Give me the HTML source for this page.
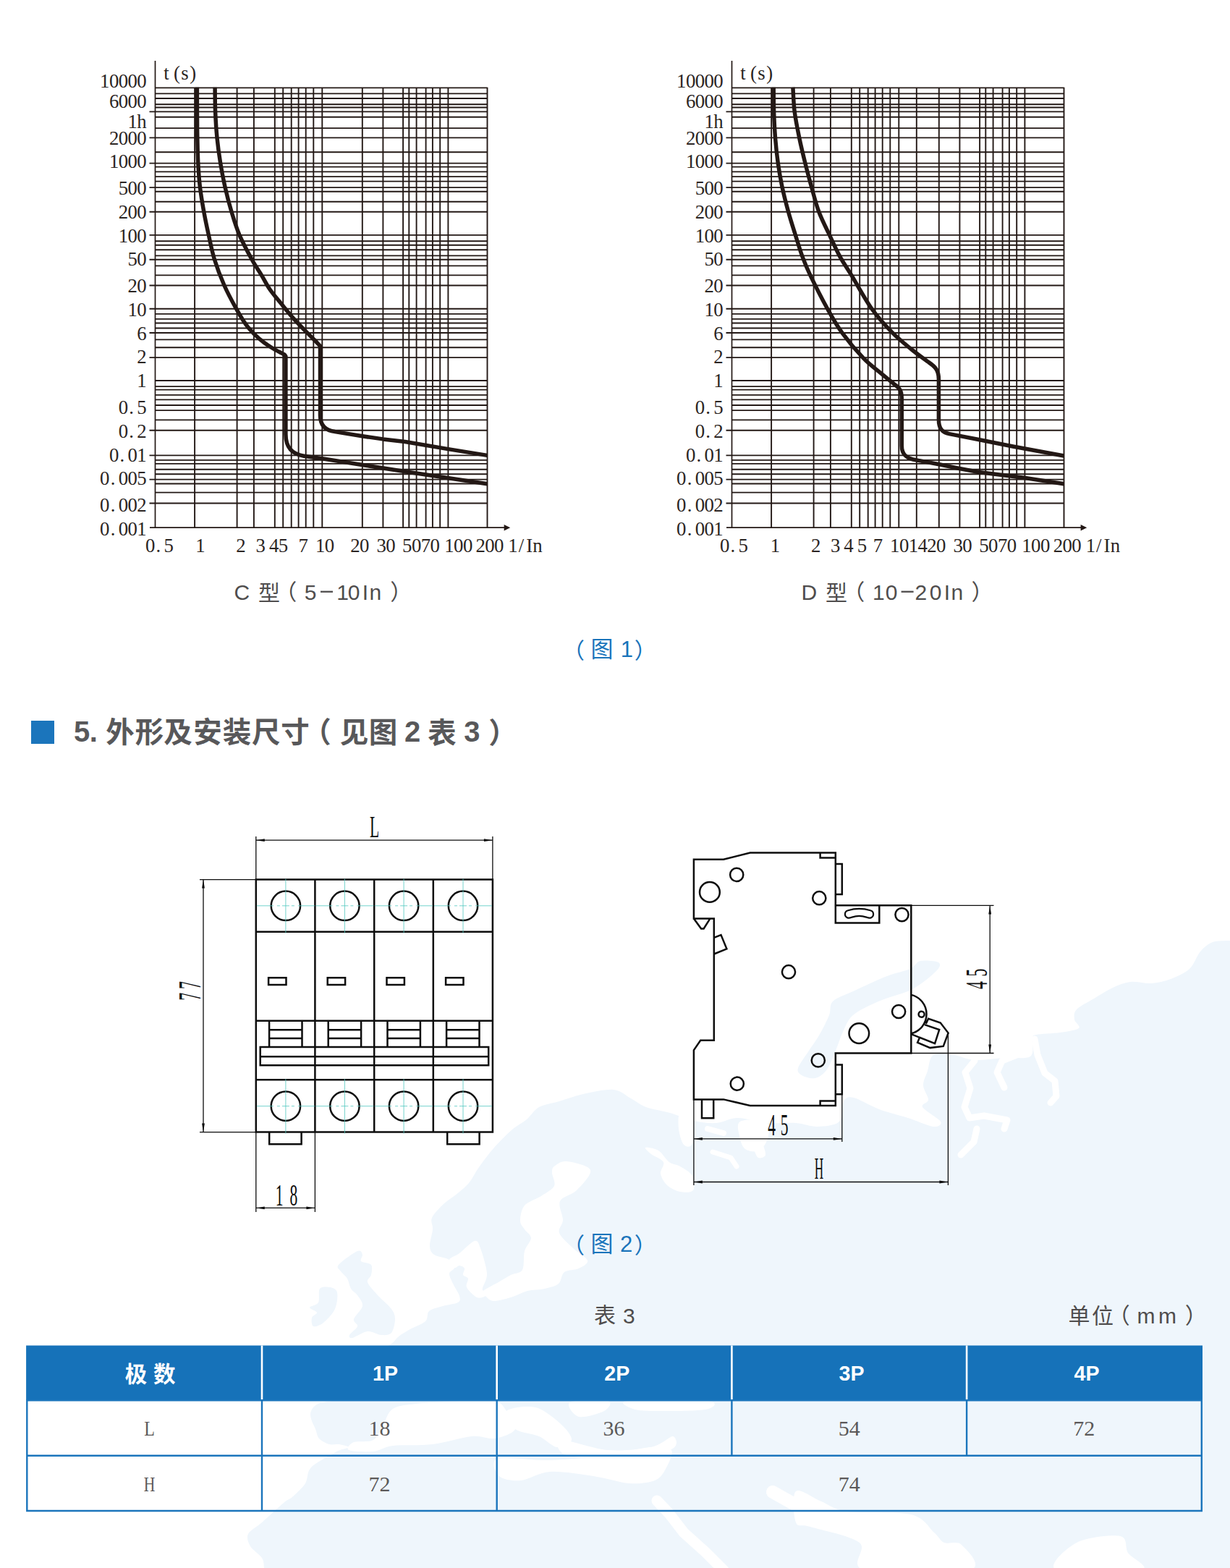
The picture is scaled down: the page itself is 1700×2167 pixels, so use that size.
<!DOCTYPE html>
<html lang="zh"><head><meta charset="utf-8"><title>p</title>
<style>html,body{margin:0;padding:0;background:#fff}svg{display:block}text{white-space:pre}</style></head>
<body><svg width="1700" height="2167" viewBox="0 0 1700 2167">
<rect width="1700" height="2167" fill="#fff"/>
<path d="M1700 1300C1693 1300.3 1682.6 1299.6 1676 1302C1669.4 1304.4 1664.1 1309.1 1659 1315C1653.9 1320.9 1650.6 1332.9 1644 1339C1637.4 1345.1 1626.5 1349.8 1618 1353C1609.5 1356.2 1600 1358.4 1591 1359C1582 1359.6 1570.5 1356 1562 1357C1553.5 1358 1546 1361.3 1538 1365C1530 1368.7 1520 1375.2 1512 1380C1504 1384.8 1492.3 1390.4 1488 1395C1483.7 1399.6 1484.5 1404.8 1485 1409C1485.5 1413.2 1494.2 1418.1 1491 1421C1487.8 1423.9 1474.4 1425.6 1465 1427C1455.6 1428.4 1438.1 1428.6 1432 1430C1425.9 1431.4 1428.3 1431.2 1427 1436C1425.7 1440.8 1430.2 1455.8 1424 1460C1417.8 1464.2 1400.3 1461.2 1388 1462C1375.7 1462.8 1358.2 1465.6 1347 1465C1335.8 1464.4 1327.1 1459.1 1318 1458C1308.9 1456.9 1295.8 1454.5 1290 1458C1284.2 1461.5 1284.2 1473.3 1282 1480C1279.8 1486.7 1275.8 1493.6 1276 1500C1276.2 1506.4 1283.2 1515.2 1283 1520C1282.8 1524.8 1272.3 1525.2 1275 1530C1277.7 1534.8 1297.6 1545.7 1300 1550C1302.4 1554.3 1297.2 1557.8 1290 1557C1282.8 1556.2 1267 1548.8 1255 1545C1243 1541.2 1227 1537.5 1215 1533C1203 1528.5 1187.8 1518.8 1180 1517C1172.2 1515.2 1169.2 1516.7 1166 1522C1162.8 1527.3 1165.8 1544.4 1160 1550C1154.2 1555.6 1139.6 1556.7 1130 1557C1120.4 1557.3 1111.2 1552.8 1100 1552C1088.8 1551.2 1072.8 1553.1 1060 1552C1047.2 1550.9 1031.2 1545 1020 1545C1008.8 1545 999.8 1551.4 990 1552C980.2 1552.6 969.2 1551.2 959 1549C948.8 1546.8 936.6 1541 926 1538C915.4 1535 901.6 1533.2 893 1530C884.4 1526.8 879.2 1521.8 872 1518C864.8 1514.2 858.6 1507 848 1506C837.4 1505 818 1509.4 806 1512C794 1514.6 782.8 1519.1 773 1522C763.2 1524.9 752.2 1526 745 1530C737.8 1534 733.9 1542 728 1547C722.1 1552 715.2 1554.8 708 1561C700.8 1567.2 690.4 1577.7 683 1586C675.6 1594.3 667.6 1605.2 662 1613C656.4 1620.8 653.3 1628.8 648 1635C642.7 1641.2 634.6 1647.4 629 1652C623.4 1656.6 618.1 1659 613 1664C607.9 1669 599.4 1677.4 597 1683C594.6 1688.6 598.5 1692.8 598 1699C597.5 1705.2 593.7 1716.4 594 1722C594.3 1727.6 595.7 1731 600 1734C604.3 1737 616.5 1738.1 621 1741C625.5 1743.9 628 1749 628 1752C628 1755 621.3 1756.5 621 1760C620.7 1763.5 623.8 1769 626 1774C628.2 1779 633.9 1786.8 635 1791C636.1 1795.2 636.7 1797.8 633 1800C629.3 1802.2 618.4 1803.1 612 1805C605.6 1806.9 596.8 1808.6 593 1812C589.2 1815.4 592.5 1821.8 588 1826C583.5 1830.2 570.9 1834.6 565 1838C559.1 1841.4 554.8 1844 551 1847C547.2 1850 546 1853.6 541 1857C536 1860.4 526.9 1865.6 520 1868C513.1 1870.4 504.7 1869.8 498 1872C491.3 1874.2 479 1878.3 478 1882C477 1885.7 487.7 1890.8 492 1895C496.3 1899.2 503.7 1903 505 1908C506.3 1913 505.6 1921.8 500 1926C494.4 1930.2 479.6 1931.8 470 1934C460.4 1936.2 446.4 1937.4 440 1940C433.6 1942.6 431.6 1946.6 430 1950C428.4 1953.4 429 1957 430 1961C431 1965 434.2 1970.7 436 1975C437.8 1979.3 438 1984.6 441 1988C444 1991.4 450.7 1994.7 455 1996C459.3 1997.3 463.7 1995.4 468 1996C472.3 1996.6 481.7 1998.7 482 2000C482.3 2001.3 473.2 2002.7 470 2004C466.8 2005.3 468.4 2004.2 462 2008C455.6 2011.8 436.4 2021.3 430 2028C423.6 2034.7 426 2043.6 422 2050C418 2056.4 409.8 2063.7 405 2068C400.2 2072.3 398.9 2071.2 392 2077C385.1 2082.8 369.8 2097.1 362 2104C354.2 2110.9 345.6 2114.7 343 2120C340.4 2125.3 343 2131.7 346 2137C349 2142.3 359 2148.2 362 2153C365 2157.8 364.5 2162.7 365 2167C365.5 2171.3 148.2 2177.9 365 2180C581.8 2182.1 1503.2 2320.8 1720 2180C1936.8 2039.2 1723.2 1440.8 1720 1300C1716.8 1159.2 1707 1299.7 1700 1300Z" fill="#eff6fc"/>
<path d="M468 1748C471.7 1743.5 488.7 1731.2 494 1729C499.3 1726.8 500.2 1731.8 501 1734C501.8 1736.2 497.1 1740.8 499 1743C500.9 1745.2 510.8 1745 513 1748C515.2 1751 513.8 1758.2 513 1762C512.2 1765.8 506.6 1767.5 508 1772C509.4 1776.5 516.7 1784.1 522 1790C527.3 1795.9 537.2 1803.7 541 1809C544.8 1814.3 546 1817.7 546 1823C546 1828.3 544 1838.5 541 1842C538 1845.5 532.3 1845.3 527 1845C521.7 1844.7 514.4 1839.4 508 1840C501.6 1840.6 491 1848.2 487 1849C483 1849.8 481.9 1847.6 483 1845C484.1 1842.4 493 1836.5 494 1833C495 1829.5 487.9 1827.5 489 1823C490.1 1818.5 500.2 1810.3 501 1805C501.8 1799.7 496.6 1793.8 494 1790C491.4 1786.2 487.2 1784.7 485 1781C482.8 1777.3 482.2 1770.8 480 1767C477.8 1763.2 472.9 1760 471 1757C469.1 1754 464.3 1752.5 468 1748Z" fill="#eff6fc"/>
<path d="M442 1781C444.6 1777.6 452.2 1778.2 456 1779C459.8 1779.8 464.9 1781.2 466 1786C467.1 1790.8 466 1802.3 463 1809C460 1815.7 451.8 1824.2 447 1828C442.2 1831.8 435.6 1834.1 433 1833C430.4 1831.9 430.2 1824 431 1821C431.8 1818 438.5 1816.2 438 1814C437.5 1811.8 427.7 1809.2 428 1807C428.3 1804.8 437.8 1804.2 440 1800C442.2 1795.8 439.4 1784.4 442 1781Z" fill="#eff6fc"/>
<path d="M1297 1330C1293.5 1327.8 1278.2 1326.6 1272 1328C1265.8 1329.4 1265.4 1335.6 1258 1339C1250.6 1342.4 1238.6 1344 1226 1349C1213.4 1354 1191 1364.4 1179 1370C1167 1375.6 1156.3 1378.7 1151 1384C1145.7 1389.3 1149 1395.5 1146 1403C1143 1410.5 1136.5 1423.2 1132 1431C1127.5 1438.8 1122.6 1444.8 1118 1452C1113.4 1459.2 1104.6 1470.6 1103 1476C1101.4 1481.4 1104.2 1483.8 1108 1486C1111.8 1488.2 1121.4 1491.3 1127 1490C1132.6 1488.7 1138.5 1484.1 1143 1478C1147.5 1471.9 1151.5 1460.3 1155 1452C1158.5 1443.7 1161.2 1433.8 1165 1426C1168.8 1418.2 1171.2 1409.7 1179 1403C1186.8 1396.3 1200.9 1389.8 1214 1384C1227.1 1378.2 1248.2 1373.7 1261 1367C1273.8 1360.3 1288.2 1347.9 1294 1342C1299.8 1336.1 1300.5 1332.2 1297 1330Z" fill="#eff6fc"/>
<path d="M621 1741C622.1 1737.8 629.4 1736.2 635 1732C640.6 1727.8 651.4 1716.1 656 1715C660.6 1713.9 661.3 1717.8 664 1725C666.7 1732.2 672.5 1751.2 673 1760C673.5 1768.8 667.8 1776.2 667 1780C666.2 1783.8 667.4 1782.2 668 1784C668.6 1785.8 672.4 1789.6 671 1791C669.6 1792.4 663.2 1794.9 659 1793C654.8 1791.1 646.9 1783.2 645 1779C643.1 1774.8 647.8 1769.7 647 1767C646.2 1764.3 640.8 1764.2 640 1762C639.2 1759.8 642.8 1755.1 642 1753C641.2 1750.9 637.2 1749.2 635 1749C632.8 1748.8 630.2 1753.3 628 1752C625.8 1750.7 619.9 1744.2 621 1741Z" fill="#ffffff"/>
<path d="M668 1784C670.9 1781 682.9 1775.5 689 1772C695.1 1768.5 700.7 1764.7 706 1762C711.3 1759.3 719 1760.3 722 1755C725 1749.7 723.1 1736 725 1729C726.9 1722 734 1715.8 734 1711C734 1706.2 727.4 1702.8 725 1699C722.6 1695.2 719 1692.3 719 1687C719 1681.7 720.4 1671.4 725 1666C729.6 1660.6 741.4 1657.3 748 1653C754.6 1648.7 763.6 1644.1 766 1639C768.4 1633.9 763 1625.3 763 1621C763 1616.7 762.8 1614.6 766 1612C769.2 1609.4 775 1604.2 783 1605C791 1605.8 813.8 1610.6 816 1617C818.2 1623.4 803.7 1638.1 797 1645C790.3 1651.9 777 1653.4 774 1660C771 1666.6 778.2 1679 778 1686C777.8 1693 770.8 1697.8 773 1704C775.2 1710.2 785.8 1718.9 792 1725C798.2 1731.1 810.7 1737.5 812 1742C813.3 1746.5 805.1 1750.4 800 1753C794.9 1755.6 784.5 1754.6 780 1758C775.5 1761.4 776.3 1770.3 772 1774C767.7 1777.7 759.9 1779.4 753 1781C746.1 1782.6 736.5 1782.1 729 1784C721.5 1785.9 713.5 1790.8 706 1793C698.5 1795.2 687.6 1798.3 682 1798C676.4 1797.7 673.2 1793.2 671 1791C668.8 1788.8 665.1 1787 668 1784Z" fill="#ffffff"/>
<path d="M892 1586C893.6 1585.2 904.7 1586.8 910 1590C915.3 1593.2 920.2 1602.5 925 1606C929.8 1609.5 934.9 1609 940 1612C945.1 1615 954.1 1619.7 957 1625C959.9 1630.3 960.7 1641.5 958 1645C955.3 1648.5 945.8 1648.1 940 1647C934.2 1645.9 926.3 1642 922 1638C917.7 1634 913.8 1627.1 913 1622C912.2 1616.9 919.1 1610.3 917 1606C914.9 1601.7 904 1598.2 900 1595C896 1591.8 890.4 1586.8 892 1586Z" fill="#ffffff"/>
<path d="M1430 1436L1434 1458L1444 1483L1458 1494L1460 1515L1452 1524" stroke="#fff" stroke-width="9" fill="none" stroke-linecap="round" stroke-linejoin="round"/>
<path d="M1405 1458L1385 1466L1378 1482L1388 1503" stroke="#fff" stroke-width="9" fill="none" stroke-linecap="round" stroke-linejoin="round"/>
<path d="M1347 1466L1334 1482L1341 1504L1333 1530L1340 1545L1360 1542L1392 1548L1388 1560" stroke="#fff" stroke-width="9" fill="none" stroke-linecap="round" stroke-linejoin="round"/>
<path d="M1350 1560L1346 1578L1328 1596" stroke="#fff" stroke-width="9" fill="none" stroke-linecap="round" stroke-linejoin="round"/>
<path d="M1023 1550C1028.8 1546.6 1051.8 1545.8 1058 1549C1064.2 1552.2 1063.3 1563.4 1062 1570C1060.7 1576.6 1055.1 1587.1 1050 1590C1044.9 1592.9 1034.5 1591.2 1030 1588C1025.5 1584.8 1023.1 1576.1 1022 1570C1020.9 1563.9 1017.2 1553.4 1023 1550Z" fill="#ffffff"/>
<path d="M985 1592L1010 1600L1018 1612" stroke="#fff" stroke-width="7" fill="none" stroke-linecap="round" stroke-linejoin="round"/>
<path d="M978 1560L1000 1566" stroke="#fff" stroke-width="8" fill="none" stroke-linecap="round" stroke-linejoin="round"/>
<path d="M1040 1574C1041.6 1572.4 1049.1 1574.5 1052 1578C1054.9 1581.5 1058.6 1592.5 1058 1596C1057.4 1599.5 1050.6 1601.3 1048 1600C1045.4 1598.7 1043.3 1592.2 1042 1588C1040.7 1583.8 1038.4 1575.6 1040 1574Z" fill="#ffffff"/>
<path d="M940 1537C943.2 1533.8 955.3 1533.1 958 1540C960.7 1546.9 959.1 1573.3 957 1580C954.9 1586.7 948 1585.2 945 1582C942 1578.8 938.8 1567.2 938 1560C937.2 1552.8 936.8 1540.2 940 1537Z" fill="#ffffff"/>
<path d="M543 1947C550.2 1942.5 559.5 1941.8 575 1940C590.5 1938.2 622.6 1936.6 640 1936C657.4 1935.4 674.4 1933.8 684 1936C693.6 1938.2 695.5 1943.8 700 1950C704.5 1956.2 714.6 1968.9 712 1975C709.4 1981.1 693.6 1986.4 684 1988C674.4 1989.6 665.8 1983.7 652 1985C638.2 1986.3 615.4 1993.9 598 1996C580.6 1998.1 556.1 1996.4 543 1998C529.9 1999.6 525.8 2005 516 2006C506.2 2007 486.3 2006.1 482 2004C477.7 2001.9 483.6 1995.2 489 1993C494.4 1990.8 509.4 1994 516 1990C522.6 1986 525.7 1974.9 530 1968C534.3 1961.1 535.8 1951.5 543 1947Z" fill="#ffffff"/>
<path d="M700 1950C704.5 1945.2 728 1942.1 740 1945C752 1947.9 767 1960.8 775 1968C783 1975.2 790.8 1984.9 790 1990C789.2 1995.1 777.2 2000.8 770 2000C762.8 1999.2 754.3 1989 745 1985C735.7 1981 719.2 1980.6 712 1975C704.8 1969.4 695.5 1954.8 700 1950Z" fill="#ffffff"/>
<path d="M788 1938C794.4 1934.5 832.5 1934.1 840 1936C847.5 1937.9 841.4 1946.5 835 1950C828.6 1953.5 807.5 1959.9 800 1958C792.5 1956.1 781.6 1941.5 788 1938Z" fill="#ffffff"/>
<path d="M869 1936C886 1934.4 961 1934.1 978 1936C995 1937.9 987.5 1945.8 975 1948C962.5 1950.2 916.5 1950.3 900 1950C883.5 1949.7 877 1948.2 872 1946C867 1943.8 852 1937.6 869 1936Z" fill="#ffffff"/>
<path d="M688 2016C699.2 2012.5 737.3 2018.6 760 2018C782.7 2017.4 807.6 2014.9 830 2012C852.4 2009.1 884.3 2001.3 900 2000C915.7 1998.7 924.8 1999.2 928 2004C931.2 2008.8 923.7 2023.3 920 2030C916.3 2036.7 913 2042.8 905 2046C897 2049.2 883.6 2051 870 2050C856.4 2049 837.6 2042.6 820 2040C802.4 2037.4 776 2033 760 2034C744 2035 731.2 2045 720 2046C708.8 2047 695.1 2044.8 690 2040C684.9 2035.2 676.8 2019.5 688 2016Z" fill="#ffffff"/>
<path d="M775 1990C784.6 1989 820 2002.4 840 2004C860 2005.6 885.6 2003 900 2000C914.4 1997 926 1984.4 930 1985C934 1985.6 941 1999.4 925 2004C909 2008.6 853.2 2013 830 2014C806.8 2015 788.8 2013.8 780 2010C771.2 2006.2 765.4 1991 775 1990Z" fill="#ffffff"/>
<path d="M908 2074L925 2092L945 2118L975 2145L1000 2170" stroke="#fff" stroke-width="15" fill="none" stroke-linecap="round" stroke-linejoin="round"/>
<path d="M1068 2062L1100 2080L1135 2104" stroke="#fff" stroke-width="18" fill="none" stroke-linecap="round" stroke-linejoin="round"/>
<path d="M1100 2061C1105.6 2056.4 1123.6 2070.5 1135 2075C1146.4 2079.5 1151.2 2086.1 1171 2089C1190.8 2091.9 1239.8 2088.4 1259 2093C1278.2 2097.6 1283.6 2111.8 1291 2118C1298.4 2124.2 1298.9 2129.3 1305 2132C1311.1 2134.7 1323.4 2128.9 1329 2135C1334.6 2141.1 1361.4 2164.4 1340 2170C1318.6 2175.6 1219.3 2176.1 1195 2170C1170.7 2163.9 1200 2141.6 1188 2132C1176 2122.4 1134.1 2114.5 1120 2110C1105.9 2105.5 1103.2 2111.8 1100 2104C1096.8 2096.2 1094.4 2065.6 1100 2061Z" fill="#ffffff"/>
<path d="M1460 2170C1445.8 2163.9 1473.9 2139.5 1488 2132C1502.1 2124.5 1536.6 2120.8 1548 2123C1559.4 2125.2 1554.4 2138.5 1559 2146C1563.6 2153.5 1592.8 2166.2 1577 2170C1561.2 2173.8 1474.2 2176.1 1460 2170Z" fill="#ffffff"/>
<g transform="translate(0 0)">
<path d="M214.5 121.4H673.5M214.5 129.4H673.5M214.5 136H673.5M214.5 144.2H673.5M214.5 148.5H673.5M206.5 154.4H673.5M214.5 161.8H673.5M214.5 177.1H673.5M206.5 190.4H673.5M214.5 210.2H673.5M206.5 225.6H673.5M214.5 230.6H673.5M214.5 237.4H673.5M214.5 244.1H673.5M214.5 250.6H673.5M206.5 259.1H673.5M214.5 264.7H673.5M214.5 278.8H673.5M206.5 292.7H673.5M206.5 324.9H673.5M214.5 333.3H673.5M214.5 338.7H673.5M214.5 345.2H673.5M214.5 353.4H673.5M206.5 358.8H673.5M214.5 367.4H673.5M214.5 380.4H673.5M206.5 394.5H673.5M206.5 426.7H673.5M214.5 433.9H673.5M214.5 440.9H673.5M214.5 446.5H673.5M214.5 453.5H673.5M206.5 460H673.5M214.5 469.4H673.5M214.5 480.2H673.5M206.5 494.1H673.5M214.5 526H673.5M214.5 534.1H673.5M214.5 538.6H673.5M214.5 545.9H673.5M214.5 552.4H673.5M214.5 560H673.5M214.5 567.1H673.5M214.5 580.4H673.5M206.5 594.7H673.5M206.5 629.4H673.5M214.5 635.9H673.5M214.5 640.9H673.5M214.5 648.8H673.5M214.5 655.3H673.5M206.5 662.6H673.5M214.5 668.5H673.5M214.5 680.6H673.5M206.5 695.5H673.5M269.1 120.7V729.2M327.6 120.7V729.2M350.9 120.7V729.2M379.8 120.7V729.2M391.2 120.7V729.2M402.7 120.7V729.2M412.6 120.7V729.2M422.7 120.7V729.2M433.3 120.7V729.2M445.3 120.7V729.2M500.8 120.7V729.2M529.4 120.7V729.2M557.1 120.7V729.2M565.3 120.7V729.2M575.6 120.7V729.2M588.6 120.7V729.2M597.9 120.7V729.2M608.2 120.7V729.2M619.4 120.7V729.2M673.5 120.7V729.2" stroke="#231815" stroke-width="1.9" fill="none"/>
<path d="M214.5 84V730M207 729.2H698" stroke="#231815" stroke-width="1.7" fill="none"/>
<path d="M705.2 729.2L696.6 725L696.6 733.4Z" fill="#231815"/>
<path d="M272.4 120.7C272.42 127.25 272.43 148.38 272.5 160C272.57 171.62 272.58 179.47 272.8 190.4C273.02 201.33 273.18 214.15 273.8 225.6C274.42 237.05 275.17 247.92 276.5 259.1C277.83 270.28 279.82 281.73 281.8 292.7C283.78 303.67 285.95 313.88 288.4 324.9C290.85 335.92 292.9 347.2 296.5 358.8C300.1 370.4 305 383.18 310 394.5C315 405.82 321.5 417.68 326.5 426.7C331.5 435.72 335.68 442.62 340 448.6C344.32 454.58 348.28 458.48 352.4 462.6C356.52 466.72 360.58 470.15 364.7 473.3C368.82 476.45 372.98 479.03 377.1 481.5C381.22 483.97 386.65 486.62 389.4 488.1C392.15 489.58 392.9 490.02 393.6 490.4L394.9 492.5L394.9 600C394.9 618 403 627.5 420 630.2L445.3 633.8L500.8 642.5L565.3 652.5L673.5 668.8" stroke="#231815" stroke-width="5.5" fill="none" stroke-linejoin="round"/>
<path d="M297.1 120.7C297.18 126.32 297.12 142.78 297.6 154.4C298.08 166.02 298.82 178.53 300 190.4C301.18 202.27 302.83 214.15 304.7 225.6C306.57 237.05 308.65 247.92 311.2 259.1C313.75 270.28 316.7 281.73 320 292.7C323.3 303.67 326.3 313.88 331 324.9C335.7 335.92 343.12 349.55 348.2 358.8C353.28 368.05 357.37 373.53 361.5 380.4C365.63 387.27 368.35 393.3 373 400C377.65 406.7 383.92 413.87 389.4 420.6C394.88 427.33 400.4 434.22 405.9 440.4C411.4 446.58 417.6 452.77 422.4 457.7C427.2 462.63 431.53 466.78 434.7 470C437.87 473.22 440.28 475.83 441.4 477L442.5 478.5L442.5 574C442.5 588 450 595 463 596.6L500.8 602.8L529.4 606.9L560 610.5L619.4 620.6L673.5 629.4" stroke="#231815" stroke-width="5.5" fill="none" stroke-linejoin="round"/>
</g>
<g transform="translate(797 0)">
<path d="M214.5 121.4H673.5M214.5 129.4H673.5M214.5 136H673.5M214.5 144.2H673.5M214.5 148.5H673.5M206.5 154.4H673.5M214.5 161.8H673.5M214.5 177.1H673.5M206.5 190.4H673.5M214.5 210.2H673.5M206.5 225.6H673.5M214.5 230.6H673.5M214.5 237.4H673.5M214.5 244.1H673.5M214.5 250.6H673.5M206.5 259.1H673.5M214.5 264.7H673.5M214.5 278.8H673.5M206.5 292.7H673.5M206.5 324.9H673.5M214.5 333.3H673.5M214.5 338.7H673.5M214.5 345.2H673.5M214.5 353.4H673.5M206.5 358.8H673.5M214.5 367.4H673.5M214.5 380.4H673.5M206.5 394.5H673.5M206.5 426.7H673.5M214.5 433.9H673.5M214.5 440.9H673.5M214.5 446.5H673.5M214.5 453.5H673.5M206.5 460H673.5M214.5 469.4H673.5M214.5 480.2H673.5M206.5 494.1H673.5M214.5 526H673.5M214.5 534.1H673.5M214.5 538.6H673.5M214.5 545.9H673.5M214.5 552.4H673.5M214.5 560H673.5M214.5 567.1H673.5M214.5 580.4H673.5M206.5 594.7H673.5M206.5 629.4H673.5M214.5 635.9H673.5M214.5 640.9H673.5M214.5 648.8H673.5M214.5 655.3H673.5M206.5 662.6H673.5M214.5 668.5H673.5M214.5 680.6H673.5M206.5 695.5H673.5M269.1 120.7V729.2M327.6 120.7V729.2M350.9 120.7V729.2M379.8 120.7V729.2M391.2 120.7V729.2M402.7 120.7V729.2M412.6 120.7V729.2M422.7 120.7V729.2M433.3 120.7V729.2M445.3 120.7V729.2M500.8 120.7V729.2M529.4 120.7V729.2M557.1 120.7V729.2M565.3 120.7V729.2M575.6 120.7V729.2M588.6 120.7V729.2M597.9 120.7V729.2M608.2 120.7V729.2M619.4 120.7V729.2M673.5 120.7V729.2M469.8 120.7V729.2" stroke="#231815" stroke-width="1.9" fill="none"/>
<path d="M214.5 84V730M207 729.2H698" stroke="#231815" stroke-width="1.7" fill="none"/>
<path d="M705.2 729.2L696.6 725L696.6 733.4Z" fill="#231815"/>
<path d="M272.2 120.7C272.27 126.32 272.22 142.78 272.6 154.4C272.98 166.02 273.55 178.53 274.5 190.4C275.45 202.27 276.68 214.15 278.3 225.6C279.92 237.05 281.82 247.92 284.2 259.1C286.58 270.28 289.57 281.73 292.6 292.7C295.63 303.67 299.2 314.67 302.4 324.9C305.6 335.13 308.37 344.82 311.8 354.1C315.23 363.38 317.22 368.53 323 380.6C328.78 392.67 339.25 413.37 346.5 426.5C353.75 439.63 358.25 448.03 366.5 459.4C374.75 470.77 386.98 485.28 396 494.7C405.02 504.12 413.43 509.85 420.6 515.9C427.77 521.95 435.93 528.48 439 531C446 536 449.3 540 449.3 550L449.3 616C449.3 629 457 634 469 635.8L501 641.8L529 647.5L556 652.5L620 660.5L673.5 668.8" stroke="#231815" stroke-width="5.5" fill="none" stroke-linejoin="round"/>
<path d="M298.9 120.7C299.28 126.32 299.73 142.78 301.2 154.4C302.67 166.02 305.25 178.53 307.7 190.4C310.15 202.27 313.05 214.15 315.9 225.6C318.75 237.05 321.65 247.92 324.8 259.1C327.95 270.28 330.68 281.73 334.8 292.7C338.92 303.67 344.7 314.67 349.5 324.9C354.3 335.13 358.52 344.82 363.6 354.1C368.68 363.38 372.65 368.53 380 380.6C387.35 392.67 398.37 413.37 407.7 426.5C417.03 439.63 426.78 449.98 436 459.4C445.22 468.82 454.58 476.13 463 483C471.42 489.87 482.58 497.67 486.5 500.6C496 507 500.4 512 500.4 524L500.4 580C500.4 593 506 598 515 599.6L553 607L603 617L673.5 630" stroke="#231815" stroke-width="5.5" fill="none" stroke-linejoin="round"/>
</g>
<text x="138.1 150.9 163.7 176.5 189.3" y="120.6" font-family="Liberation Serif" font-size="26.8" fill="#2b2523">10000</text>
<text x="150.9 163.7 176.5 189.3" y="149" font-family="Liberation Serif" font-size="26.8" fill="#2b2523">6000</text>
<text x="176.5 189.3" y="176.6" font-family="Liberation Serif" font-size="26.8" fill="#2b2523">1h</text>
<text x="150.9 163.7 176.5 189.3" y="199.6" font-family="Liberation Serif" font-size="26.8" fill="#2b2523">2000</text>
<text x="150.9 163.7 176.5 189.3" y="232.4" font-family="Liberation Serif" font-size="26.8" fill="#2b2523">1000</text>
<text x="163.7 176.5 189.3" y="269" font-family="Liberation Serif" font-size="26.8" fill="#2b2523">500</text>
<text x="163.7 176.5 189.3" y="302" font-family="Liberation Serif" font-size="26.8" fill="#2b2523">200</text>
<text x="163.7 176.5 189.3" y="335" font-family="Liberation Serif" font-size="26.8" fill="#2b2523">100</text>
<text x="176.5 189.3" y="367" font-family="Liberation Serif" font-size="26.8" fill="#2b2523">50</text>
<text x="176.5 189.3" y="404" font-family="Liberation Serif" font-size="26.8" fill="#2b2523">20</text>
<text x="176.5 189.3" y="437" font-family="Liberation Serif" font-size="26.8" fill="#2b2523">10</text>
<text x="189.3" y="469.6" font-family="Liberation Serif" font-size="26.8" fill="#2b2523">6</text>
<text x="189.3" y="502.4" font-family="Liberation Serif" font-size="26.8" fill="#2b2523">2</text>
<text x="189.3" y="535" font-family="Liberation Serif" font-size="26.8" fill="#2b2523">1</text>
<text x="163.7 178.3 189.3" y="572" font-family="Liberation Serif" font-size="26.8" fill="#2b2523">0.5</text>
<text x="163.7 178.3 189.3" y="605" font-family="Liberation Serif" font-size="26.8" fill="#2b2523">0.2</text>
<text x="150.9 165.5 176.5 189.3" y="638" font-family="Liberation Serif" font-size="26.8" fill="#2b2523">0.01</text>
<text x="138.1 152.7 163.7 176.5 189.3" y="670" font-family="Liberation Serif" font-size="26.8" fill="#2b2523">0.005</text>
<text x="138.1 152.7 163.7 176.5 189.3" y="707" font-family="Liberation Serif" font-size="26.8" fill="#2b2523">0.002</text>
<text x="138.1 152.7 163.7 176.5 189.3" y="740" font-family="Liberation Serif" font-size="26.8" fill="#2b2523">0.001</text>
<text x="226.18 239.88 250.29 262.2" y="109.5" font-family="Liberation Serif" font-size="26.8" fill="#2b2523">t(s)</text>
<text x="935.1 947.9 960.7 973.5 986.3" y="120.6" font-family="Liberation Serif" font-size="26.8" fill="#2b2523">10000</text>
<text x="947.9 960.7 973.5 986.3" y="149" font-family="Liberation Serif" font-size="26.8" fill="#2b2523">6000</text>
<text x="973.5 986.3" y="176.6" font-family="Liberation Serif" font-size="26.8" fill="#2b2523">1h</text>
<text x="947.9 960.7 973.5 986.3" y="199.6" font-family="Liberation Serif" font-size="26.8" fill="#2b2523">2000</text>
<text x="947.9 960.7 973.5 986.3" y="232.4" font-family="Liberation Serif" font-size="26.8" fill="#2b2523">1000</text>
<text x="960.7 973.5 986.3" y="269" font-family="Liberation Serif" font-size="26.8" fill="#2b2523">500</text>
<text x="960.7 973.5 986.3" y="302" font-family="Liberation Serif" font-size="26.8" fill="#2b2523">200</text>
<text x="960.7 973.5 986.3" y="335" font-family="Liberation Serif" font-size="26.8" fill="#2b2523">100</text>
<text x="973.5 986.3" y="367" font-family="Liberation Serif" font-size="26.8" fill="#2b2523">50</text>
<text x="973.5 986.3" y="404" font-family="Liberation Serif" font-size="26.8" fill="#2b2523">20</text>
<text x="973.5 986.3" y="437" font-family="Liberation Serif" font-size="26.8" fill="#2b2523">10</text>
<text x="986.3" y="469.6" font-family="Liberation Serif" font-size="26.8" fill="#2b2523">6</text>
<text x="986.3" y="502.4" font-family="Liberation Serif" font-size="26.8" fill="#2b2523">2</text>
<text x="986.3" y="535" font-family="Liberation Serif" font-size="26.8" fill="#2b2523">1</text>
<text x="960.7 975.3 986.3" y="572" font-family="Liberation Serif" font-size="26.8" fill="#2b2523">0.5</text>
<text x="960.7 975.3 986.3" y="605" font-family="Liberation Serif" font-size="26.8" fill="#2b2523">0.2</text>
<text x="947.9 962.5 973.5 986.3" y="638" font-family="Liberation Serif" font-size="26.8" fill="#2b2523">0.01</text>
<text x="935.1 949.7 960.7 973.5 986.3" y="670" font-family="Liberation Serif" font-size="26.8" fill="#2b2523">0.005</text>
<text x="935.1 949.7 960.7 973.5 986.3" y="707" font-family="Liberation Serif" font-size="26.8" fill="#2b2523">0.002</text>
<text x="935.1 949.7 960.7 973.5 986.3" y="740" font-family="Liberation Serif" font-size="26.8" fill="#2b2523">0.001</text>
<text x="1023.18 1036.88 1047.29 1059.2" y="109.5" font-family="Liberation Serif" font-size="26.8" fill="#2b2523">t(s)</text>
<text x="200.9 215.5 226.5" y="762.6" font-family="Liberation Serif" font-size="26.8" fill="#2b2523">0.5</text>
<text x="270.2" y="762.6" font-family="Liberation Serif" font-size="26.8" fill="#2b2523">1</text>
<text x="326.3" y="762.6" font-family="Liberation Serif" font-size="26.8" fill="#2b2523">2</text>
<text x="353.5" y="762.6" font-family="Liberation Serif" font-size="26.8" fill="#2b2523">3</text>
<text x="371.9 384.7" y="762.6" font-family="Liberation Serif" font-size="26.8" fill="#2b2523">45</text>
<text x="412.5" y="762.6" font-family="Liberation Serif" font-size="26.8" fill="#2b2523">7</text>
<text x="436 448.8" y="762.6" font-family="Liberation Serif" font-size="26.8" fill="#2b2523">10</text>
<text x="484.3 497.1" y="762.6" font-family="Liberation Serif" font-size="26.8" fill="#2b2523">20</text>
<text x="520.5 533.3" y="762.6" font-family="Liberation Serif" font-size="26.8" fill="#2b2523">30</text>
<text x="556.1 568.9 581.7 594.5" y="762.6" font-family="Liberation Serif" font-size="26.8" fill="#2b2523">5070</text>
<text x="614.3 627.1 639.9" y="762.6" font-family="Liberation Serif" font-size="26.8" fill="#2b2523">100</text>
<text x="657.5 670.3 683.1" y="762.6" font-family="Liberation Serif" font-size="26.8" fill="#2b2523">200</text>
<text x="702.35 716.63 727.19 736.25" y="762.6" font-family="Liberation Serif" font-size="26.8" fill="#2b2523">1/In</text>
<text x="994.9 1009.5 1020.5" y="762.6" font-family="Liberation Serif" font-size="26.8" fill="#2b2523">0.5</text>
<text x="1064.7" y="762.6" font-family="Liberation Serif" font-size="26.8" fill="#2b2523">1</text>
<text x="1121.1" y="762.6" font-family="Liberation Serif" font-size="26.8" fill="#2b2523">2</text>
<text x="1148.1" y="762.6" font-family="Liberation Serif" font-size="26.8" fill="#2b2523">3</text>
<text x="1166.3" y="762.6" font-family="Liberation Serif" font-size="26.8" fill="#2b2523">4</text>
<text x="1184.7" y="762.6" font-family="Liberation Serif" font-size="26.8" fill="#2b2523">5</text>
<text x="1206.7" y="762.6" font-family="Liberation Serif" font-size="26.8" fill="#2b2523">7</text>
<text x="1230.1 1242.9 1255.7 1268.5 1281.3 1294.1" y="762.6" font-family="Liberation Serif" font-size="26.8" fill="#2b2523">101420</text>
<text x="1317.5 1330.3" y="762.6" font-family="Liberation Serif" font-size="26.8" fill="#2b2523">30</text>
<text x="1353.3 1366.1 1378.9 1391.7" y="762.6" font-family="Liberation Serif" font-size="26.8" fill="#2b2523">5070</text>
<text x="1412.3 1425.1 1437.9" y="762.6" font-family="Liberation Serif" font-size="26.8" fill="#2b2523">100</text>
<text x="1455.7 1468.5 1481.3" y="762.6" font-family="Liberation Serif" font-size="26.8" fill="#2b2523">200</text>
<text x="1500.75 1515.03 1525.59 1534.65" y="762.6" font-family="Liberation Serif" font-size="26.8" fill="#2b2523">1/In</text>
<text x="323.48" y="829" font-family="Liberation Sans" font-size="30" fill="#4f4d4d">C</text>
<text x="357.01" y="829.84" font-family="'Liberation Sans', 'Noto Sans CJK SC', sans-serif" font-size="30" fill="#4f4d4d">型</text>
<text x="379.85" y="829.39" font-family="'Liberation Sans', 'Noto Sans CJK SC', sans-serif" font-size="30.5" fill="#4f4d4d">（</text>
<text x="420.8 465.31 480.83 500.83 510.61" y="829" font-family="Liberation Sans" font-size="30" fill="#4f4d4d">510In</text>
<rect x="443" y="816.6" width="17" height="2.3" fill="#4f4d4d"/>
<text x="539.25" y="829.39" font-family="'Liberation Sans', 'Noto Sans CJK SC', sans-serif" font-size="30.5" fill="#4f4d4d">）</text>
<text x="1107.54" y="829" font-family="Liberation Sans" font-size="30" fill="#4f4d4d">D</text>
<text x="1141.02" y="829.84" font-family="'Liberation Sans', 'Noto Sans CJK SC', sans-serif" font-size="30" fill="#4f4d4d">型</text>
<text x="1164.85" y="829.39" font-family="'Liberation Sans', 'Noto Sans CJK SC', sans-serif" font-size="30.5" fill="#4f4d4d">（</text>
<text x="1206.11 1223.83 1264.49 1284.83 1304.63 1314.41" y="829" font-family="Liberation Sans" font-size="30" fill="#4f4d4d">1020In</text>
<rect x="1245.6" y="816.6" width="17" height="2.3" fill="#4f4d4d"/>
<text x="1342.45" y="829.39" font-family="'Liberation Sans', 'Noto Sans CJK SC', sans-serif" font-size="30.5" fill="#4f4d4d">）</text>
<text x="777.45" y="910.09" font-family="'Liberation Sans', 'Noto Sans CJK SC', sans-serif" font-size="30.5" fill="#1a74bb">（</text>
<text x="816.48" y="908.1" font-family="'Liberation Sans', 'Noto Sans CJK SC', sans-serif" font-size="31" fill="#1a74bb">图</text>
<text x="857.84" y="908" font-family="Liberation Sans" font-size="31" fill="#1a74bb">1</text>
<text x="876.65" y="910.09" font-family="'Liberation Sans', 'Noto Sans CJK SC', sans-serif" font-size="30.5" fill="#1a74bb">）</text>
<text x="777.45" y="1732.09" font-family="'Liberation Sans', 'Noto Sans CJK SC', sans-serif" font-size="30.5" fill="#1a74bb">（</text>
<text x="816.48" y="1730.1" font-family="'Liberation Sans', 'Noto Sans CJK SC', sans-serif" font-size="31" fill="#1a74bb">图</text>
<text x="857.04" y="1730" font-family="Liberation Sans" font-size="31" fill="#1a74bb">2</text>
<text x="876.65" y="1732.09" font-family="'Liberation Sans', 'Noto Sans CJK SC', sans-serif" font-size="30.5" fill="#1a74bb">）</text>
<rect x="43" y="996" width="32" height="32" fill="#1b75bc"/>
<text x="101.97 123.69" y="1025.4" font-family="Liberation Sans" font-size="40" font-weight="bold" fill="#58585a">5.</text>
<text x="146.23 186.87 226.21 267.19 307.77 347.93 388.23 418.19" y="1026.2" font-family="'Liberation Sans', 'Noto Sans CJK SC', sans-serif" font-size="39.5" font-weight="bold" fill="#58585a">外形及安装尺寸（</text>
<text x="469.81 509.71" y="1025.7" font-family="'Liberation Sans', 'Noto Sans CJK SC', sans-serif" font-size="39.5" font-weight="bold" fill="#58585a">见图</text>
<text x="559.01" y="1025.4" font-family="Liberation Sans" font-size="40" font-weight="bold" fill="#58585a">2</text>
<text x="591.29" y="1026.53" font-family="'Liberation Sans', 'Noto Sans CJK SC', sans-serif" font-size="39.5" font-weight="bold" fill="#58585a">表</text>
<text x="641.28" y="1025.4" font-family="Liberation Sans" font-size="40" font-weight="bold" fill="#58585a">3</text>
<text x="675.31" y="1026.51" font-family="'Liberation Sans', 'Noto Sans CJK SC', sans-serif" font-size="39.5" font-weight="bold" fill="#58585a">）</text>
<path d="M353.8 1215.6H680.9V1564.6H353.8ZM435.4 1215.6V1564.6M517.2 1215.6V1564.6M598.8 1215.6V1564.6M353.8 1287.8H680.9M353.8 1410.8H680.9M353.8 1492.2H680.9M371.1 1351.2h24.4v9.8h-24.4ZM372.1 1410.8V1447M417.5 1410.8V1447M372.1 1423.2H417.5M372.1 1435.1H417.5M452.7 1351.2h24.4v9.8h-24.4ZM453.7 1410.8V1447M499.1 1410.8V1447M453.7 1423.2H499.1M453.7 1435.1H499.1M534.5 1351.2h24.4v9.8h-24.4ZM535.5 1410.8V1447M580.9 1410.8V1447M535.5 1423.2H580.9M535.5 1435.1H580.9M616.1 1351.2h24.4v9.8h-24.4ZM617.1 1410.8V1447M662.5 1410.8V1447M617.1 1423.2H662.5M617.1 1435.1H662.5M359.7 1447H675.2V1472.2H359.7ZM359.7 1460.3H675.2M372.2 1564.6V1581.3H416.6V1564.6M618.2 1564.6V1581.3H662.6V1564.6" stroke="#0d0d0d" stroke-width="2.5" fill="none" stroke-linejoin="miter"/>
<circle cx="394.9" cy="1251.8" r="20.2" stroke="#0d0d0d" stroke-width="2.5" fill="none"/>
<circle cx="476.4" cy="1251.8" r="20.2" stroke="#0d0d0d" stroke-width="2.5" fill="none"/>
<circle cx="558.1" cy="1251.8" r="20.2" stroke="#0d0d0d" stroke-width="2.5" fill="none"/>
<circle cx="640" cy="1251.8" r="20.2" stroke="#0d0d0d" stroke-width="2.5" fill="none"/>
<circle cx="394.9" cy="1528.7" r="20.2" stroke="#0d0d0d" stroke-width="2.5" fill="none"/>
<circle cx="476.4" cy="1528.7" r="20.2" stroke="#0d0d0d" stroke-width="2.5" fill="none"/>
<circle cx="558.1" cy="1528.7" r="20.2" stroke="#0d0d0d" stroke-width="2.5" fill="none"/>
<circle cx="640" cy="1528.7" r="20.2" stroke="#0d0d0d" stroke-width="2.5" fill="none"/>
<path d="M394.9 1214.6V1289.8M354.9 1251.8H377.9M382.9 1251.8H386.9M389.9 1251.8H399.9M402.9 1251.8H406.9M411.9 1251.8H434.9M476.4 1214.6V1289.8M436.4 1251.8H459.4M464.4 1251.8H468.4M471.4 1251.8H481.4M484.4 1251.8H488.4M493.4 1251.8H516.4M558.1 1214.6V1289.8M518.1 1251.8H541.1M546.1 1251.8H550.1M553.1 1251.8H563.1M566.1 1251.8H570.1M575.1 1251.8H598.1M640 1214.6V1289.8M600 1251.8H623M628 1251.8H632M635 1251.8H645M648 1251.8H652M657 1251.8H680M394.9 1491.2V1566.6M354.9 1528.7H377.9M382.9 1528.7H386.9M389.9 1528.7H399.9M402.9 1528.7H406.9M411.9 1528.7H434.9M476.4 1491.2V1566.6M436.4 1528.7H459.4M464.4 1528.7H468.4M471.4 1528.7H481.4M484.4 1528.7H488.4M493.4 1528.7H516.4M558.1 1491.2V1566.6M518.1 1528.7H541.1M546.1 1528.7H550.1M553.1 1528.7H563.1M566.1 1528.7H570.1M575.1 1528.7H598.1M640 1491.2V1566.6M600 1528.7H623M628 1528.7H632M635 1528.7H645M648 1528.7H652M657 1528.7H680" stroke="#52c8c0" stroke-width="0.95" fill="none" opacity="0.85"/>
<path d="M353.8 1156V1215.6M680.9 1156V1215.6M353.8 1161.2H680.9M276 1215.6H353.8M276 1564.6H353.8M281 1215.6V1564.6M353.8 1564.6V1675M435.4 1564.6V1675M353.8 1669.4H435.4" stroke="#0d0d0d" stroke-width="1.3" fill="none"/>
<path d="M353.8 1161.2L365.8 1159.3L365.8 1163.1Z" fill="#0d0d0d"/>
<path d="M680.9 1161.2L668.9 1163.1L668.9 1159.3Z" fill="#0d0d0d"/>
<path d="M281 1215.6L282.9 1227.6L279.1 1227.6Z" fill="#0d0d0d"/>
<path d="M281 1564.6L279.1 1552.6L282.9 1552.6Z" fill="#0d0d0d"/>
<path d="M353.8 1669.4L365.8 1667.5L365.8 1671.3Z" fill="#0d0d0d"/>
<path d="M435.4 1669.4L423.4 1671.3L423.4 1667.5Z" fill="#0d0d0d"/>
<text transform="translate(517.5 1157) rotate(0) translate(0 0) scale(0.5 1)" text-anchor="middle" font-family="Liberation Serif" font-size="43" fill="#0d0d0d">L</text>
<text transform="translate(277.2 1369.3) rotate(-90) translate(-7.9 0) scale(0.5 1)" text-anchor="middle" font-family="Liberation Serif" font-size="44" fill="#0d0d0d">7</text>
<text transform="translate(277.2 1369.3) rotate(-90) translate(7.9 0) scale(0.5 1)" text-anchor="middle" font-family="Liberation Serif" font-size="44" fill="#0d0d0d">7</text>
<text transform="translate(396 1665.9) rotate(0) translate(-9.9 0) scale(0.5 1)" text-anchor="middle" font-family="Liberation Serif" font-size="43" fill="#0d0d0d">1</text>
<text transform="translate(396 1665.9) rotate(0) translate(9.9 0) scale(0.5 1)" text-anchor="middle" font-family="Liberation Serif" font-size="43" fill="#0d0d0d">8</text>
<path d="M958.9 1187.7H1000L1036.7 1178.5H1154.8V1251.3H1259.3V1455.6H1154.8V1528H1036.7L1000 1519.4H958.9V1451.3L968.2 1437.7H986.8V1269.4H958.9ZM1133.6 1178.5V1185.6H1154.8M1154.8 1194.1H1163.8V1235.9H1154.8M1154.8 1251.3V1275.4H1215.3V1251.3M1154.8 1471.5H1163.8V1512.2H1154.8M1133.6 1528V1521.5H1154.8M958.9 1269.4L969.1 1283.5H972.6L981.5 1269.4M986.8 1295.9L996.5 1292L1004.4 1311.4L986.8 1318.5M970 1519.4V1545.3H986.2V1519.4" stroke="#0d0d0d" stroke-width="2.5" fill="none" stroke-linejoin="miter"/>
<circle cx="980.9" cy="1232.9" r="13.9" stroke="#0d0d0d" stroke-width="2.5" fill="none"/>
<circle cx="1018.2" cy="1208.9" r="9.1" stroke="#0d0d0d" stroke-width="2.5" fill="none"/>
<circle cx="1132.3" cy="1241.2" r="9.1" stroke="#0d0d0d" stroke-width="2.5" fill="none"/>
<circle cx="1246.5" cy="1264.1" r="9.1" stroke="#0d0d0d" stroke-width="2.5" fill="none"/>
<circle cx="1090" cy="1343.2" r="9.1" stroke="#0d0d0d" stroke-width="2.5" fill="none"/>
<circle cx="1242.1" cy="1398" r="9.1" stroke="#0d0d0d" stroke-width="2.5" fill="none"/>
<circle cx="1187.3" cy="1428.1" r="13.8" stroke="#0d0d0d" stroke-width="2.5" fill="none"/>
<circle cx="1130.8" cy="1465.4" r="9.1" stroke="#0d0d0d" stroke-width="2.5" fill="none"/>
<circle cx="1018.8" cy="1497.7" r="9.1" stroke="#0d0d0d" stroke-width="2.5" fill="none"/>
<circle cx="1273.6" cy="1401.8" r="4" stroke="#0d0d0d" stroke-width="2.5" fill="none"/>
<path d="M1171 1268.2C1166.5 1266 1167 1259.5 1172 1258.2C1182 1255.2 1193 1255.2 1203 1258.2C1208 1259.5 1208.5 1266 1204 1268.2C1201.5 1269.4 1200 1268.6 1197.5 1267.6C1191 1265.4 1184 1265.4 1177.5 1267.6C1175 1268.6 1173.5 1269.4 1171 1268.2Z" stroke="#0d0d0d" stroke-width="2.2" fill="none"/>
<path d="M1259.3 1374.9A27.4 27.4 0 0 1 1259.3 1428.3M1277.9 1416.1L1298.2 1423.1L1292.1 1442.2L1259.3 1429.2M1279.8 1414.9L1283.1 1407.8L1299.8 1413.5L1310.6 1427.6L1303.8 1445.9L1285.5 1448.1L1268.1 1440.8L1270.6 1435.1" stroke="#0d0d0d" stroke-width="2.5" fill="none" stroke-linejoin="miter"/>
<path d="M1259.3 1251.4H1373.5M1259.3 1455.5H1373.5M1368.2 1251.4V1455.5M958.9 1519V1638M1163.8 1512V1578M958.9 1573.9H1163.8M1310.4 1428V1638M958.9 1633.5H1310.4" stroke="#0d0d0d" stroke-width="1.3" fill="none"/>
<path d="M1368.2 1251.4L1370.1 1263.4L1366.3 1263.4Z" fill="#0d0d0d"/>
<path d="M1368.2 1455.5L1366.3 1443.5L1370.1 1443.5Z" fill="#0d0d0d"/>
<path d="M958.9 1573.9L970.9 1572L970.9 1575.8Z" fill="#0d0d0d"/>
<path d="M1163.8 1573.9L1151.8 1575.8L1151.8 1572Z" fill="#0d0d0d"/>
<path d="M958.9 1633.5L970.9 1631.6L970.9 1635.4Z" fill="#0d0d0d"/>
<path d="M1310.4 1633.5L1298.4 1635.4L1298.4 1631.6Z" fill="#0d0d0d"/>
<text transform="translate(1363.6 1352.9) rotate(-90) translate(-8.8 0) scale(0.5 1)" text-anchor="middle" font-family="Liberation Serif" font-size="43" fill="#0d0d0d">4</text>
<text transform="translate(1363.6 1352.9) rotate(-90) translate(8.8 0) scale(0.5 1)" text-anchor="middle" font-family="Liberation Serif" font-size="43" fill="#0d0d0d">5</text>
<text transform="translate(1075.4 1569.1) rotate(0) translate(-8.8 0) scale(0.5 1)" text-anchor="middle" font-family="Liberation Serif" font-size="43" fill="#0d0d0d">4</text>
<text transform="translate(1075.4 1569.1) rotate(0) translate(8.8 0) scale(0.5 1)" text-anchor="middle" font-family="Liberation Serif" font-size="43" fill="#0d0d0d">5</text>
<text transform="translate(1131.9 1629.1) rotate(0) translate(0 0) scale(0.4 1)" text-anchor="middle" font-family="Liberation Serif" font-size="43" fill="#0d0d0d">H</text>
<rect x="36.1" y="1859.5" width="1625.9" height="75.7" fill="#1672b9"/>
<rect x="360.7" y="1859.5" width="2.6" height="75.2" fill="#fff"/>
<rect x="685.4" y="1859.5" width="2.6" height="75.2" fill="#fff"/>
<rect x="1010.1" y="1859.5" width="2.6" height="75.2" fill="#fff"/>
<rect x="1334.8" y="1859.5" width="2.6" height="75.2" fill="#fff"/>
<path d="M36.1 1935.2H1662M36.1 2011.8H1662M36.1 2088H1662M37.3 1935.2V2088M362 1935.2V2088M1660.8 1935.2V2088M686.7 1935.2V2088M1011.4 1935.2V2011.8M1336.1 1935.2V2011.8" stroke="#1b75bc" stroke-width="2.4" fill="none"/>
<text x="172.64 211.89" y="1909.76" font-family="'Liberation Sans', 'Noto Sans CJK SC', sans-serif" font-size="30.5" font-weight="bold" fill="#fff">极数</text>
<text x="532.6" y="1908.2" text-anchor="middle" font-family="Liberation Sans" font-size="28.6" font-weight="bold" fill="#fff">1P</text>
<text x="852.8" y="1908.2" text-anchor="middle" font-family="Liberation Sans" font-size="28.6" font-weight="bold" fill="#fff">2P</text>
<text x="1177" y="1908.2" text-anchor="middle" font-family="Liberation Sans" font-size="28.6" font-weight="bold" fill="#fff">3P</text>
<text x="1502" y="1908.2" text-anchor="middle" font-family="Liberation Sans" font-size="28.6" font-weight="bold" fill="#fff">4P</text>
<text transform="translate(206.5 1984.3) scale(0.8 1)" text-anchor="middle" font-family="Liberation Serif" font-size="30" fill="#5b5959">L</text>
<text x="524.4" y="1984.3" text-anchor="middle" font-family="Liberation Serif" font-size="30" fill="#5b5959">18</text>
<text x="848.6" y="1984.3" text-anchor="middle" font-family="Liberation Serif" font-size="30" fill="#5b5959">36</text>
<text x="1173.8" y="1984.3" text-anchor="middle" font-family="Liberation Serif" font-size="30" fill="#5b5959">54</text>
<text x="1498.2" y="1984.3" text-anchor="middle" font-family="Liberation Serif" font-size="30" fill="#5b5959">72</text>
<text transform="translate(206.5 2060.8) scale(0.72 1)" text-anchor="middle" font-family="Liberation Serif" font-size="30" fill="#5b5959">H</text>
<text x="524.4" y="2060.8" text-anchor="middle" font-family="Liberation Serif" font-size="30" fill="#5b5959">72</text>
<text x="1173.8" y="2060.8" text-anchor="middle" font-family="Liberation Serif" font-size="30" fill="#5b5959">74</text>
<text x="820.96" y="1828.41" font-family="'Liberation Sans', 'Noto Sans CJK SC', sans-serif" font-size="30" fill="#4f4d4d">表</text>
<text x="861.06" y="1829" font-family="Liberation Sans" font-size="30" fill="#4f4d4d">3</text>
<text x="1476.45 1509.11" y="1829" font-family="'Liberation Sans', 'Noto Sans CJK SC', sans-serif" font-size="30" fill="#4f4d4d">单位</text>
<text x="1531.35" y="1828.79" font-family="'Liberation Sans', 'Noto Sans CJK SC', sans-serif" font-size="30.5" fill="#4f4d4d">（</text>
<text x="1571.61 1601.01" y="1829" font-family="Liberation Sans" font-size="30" fill="#4f4d4d">mm</text>
<text x="1637.85" y="1828.79" font-family="'Liberation Sans', 'Noto Sans CJK SC', sans-serif" font-size="30.5" fill="#4f4d4d">）</text>
</svg></body></html>
